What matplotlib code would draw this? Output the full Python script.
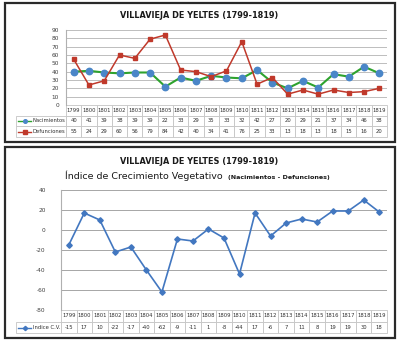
"""Villavieja de Yeltes: nacimientos, defunciones e índice de crecimiento vegetativo"""

import matplotlib
matplotlib.use('Agg')
import matplotlib.pyplot as plt
from matplotlib.lines import Line2D
from matplotlib.patches import Rectangle

plt.rcParams['axes.unicode_minus'] = False

# Datos
years = [str(y) for y in range(1799, 1820)]
nacimientos = [40, 41, 39, 38, 39, 39, 22, 33, 29, 35, 33, 32, 42, 27, 20, 29, 21, 37, 34, 46, 38]
defunciones = [55, 24, 29, 60, 56, 79, 84, 42, 40, 34, 41, 76, 25, 33, 13, 18, 13, 18, 15, 16, 20]
indice_cv = [-15, 17, 10, -22, -17, -40, -62, -9, -11, 1, -8, -44, 17, -6, 7, 11, 8, 19, 19, 30, 18]

W, H = 400, 345

def fx(px):
    return px / W

def fy(py):
    return 1 - py / H

def make_table(ax, rows, labels, left_px, ax_left, ax_right, ax_top, ax_bottom, tbl_bottom):
    """Tabla de datos estilo Excel bajo el gráfico"""
    ax_w = ax_right - ax_left
    ax_h = ax_bottom - ax_top
    n = len(years)
    label_w = ax_left - left_px
    total_w = ax_right - left_px
    cell_text = [[''] + years] + [[lab] + [str(v) for v in r] for lab, r in zip(labels, rows)]
    widths = [label_w / total_w] + [ax_w / n / total_w] * n
    tbl = ax.table(cellText=cell_text, colWidths=widths, cellLoc='center',
                   bbox=[(left_px - ax_left) / ax_w, -(tbl_bottom - ax_bottom) / ax_h,
                         total_w / ax_w, (tbl_bottom - ax_bottom) / ax_h])
    tbl.auto_set_font_size(False)
    for (r, c), cell in tbl.get_celld().items():
        cell.set_edgecolor('#c4c4c4')
        cell.set_linewidth(0.6)
        cell.get_text().set_fontsize(3.8)
        cell.get_text().set_color('#303030')
        cell.PAD = 0.02
        if r == 0 and c == 0:
            cell.visible_edges = ''
        if c == 0 and r > 0:
            cell.get_text().set_ha('right')
            cell._loc = 'right'
    return tbl

fig = plt.figure(figsize=(4, 3.45), dpi=100)
fig.patch.set_facecolor('white')

# Marcos de los dos paneles
for (x0, y0, x1, y1) in [(5, 3, 395, 142), (5, 147, 395, 338)]:
    fig.patches.append(Rectangle((fx(x0), fy(y1)), fx(x1) - fx(x0), fy(y0) - fy(y1),
                                 transform=fig.transFigure, fill=False,
                                 edgecolor='#2a2a2a', linewidth=1.6))

# ---- Gráfico superior ----
L1, R1, T1, B1 = 66, 387, 30, 105
ax1 = fig.add_axes([fx(L1), fy(B1), fx(R1) - fx(L1), fy(T1) - fy(B1)])
x = range(len(years))
ax1.plot(x, nacimientos, color='#2ea32e', linewidth=1.5, marker='o', markersize=4.6,
         markerfacecolor='#4a86c8', markeredgecolor='#4a86c8', zorder=3)
ax1.plot(x, defunciones, color='#c0392b', linewidth=1.1, marker='s', markersize=3.4,
         markerfacecolor='#c0392b', markeredgecolor='#c0392b', zorder=3)
ax1.set_xlim(-0.5, len(years) - 0.5)
ax1.set_ylim(0, 90)
ax1.set_yticks(range(0, 91, 10))
ax1.set_xticks([])
ax1.grid(axis='y', color='#bdbdbd', linewidth=0.7)
ax1.set_axisbelow(True)
for s in ['top', 'right', 'bottom']:
    ax1.spines[s].set_visible(False)
ax1.spines['left'].set_color('#b0b0b0')
ax1.tick_params(axis='y', length=0, labelsize=4.2, labelcolor='#404040', pad=5)
make_table(ax1, [nacimientos, defunciones], ['Nacimientos', 'Defunciones'],
           16, L1, R1, T1, B1, 137)
fig.text(fx(199), fy(16), 'VILLAVIEJA DE YELTES (1799-1819)', ha='center', va='center',
         fontsize=5.9, fontweight='bold', color='#1a1a1a')

# Claves de la leyenda en la tabla
for yk, col, lcol, mk in [(121, '#4a86c8', '#2ea32e', 'o'), (132, '#c0392b', '#c0392b', 's')]:
    fig.lines.append(Line2D([fx(18), fx(31)], [fy(yk), fy(yk)], transform=fig.transFigure,
                            color=lcol, linewidth=1.0))
    fig.lines.append(Line2D([fx(24.5)], [fy(yk)], transform=fig.transFigure, marker=mk,
                            markersize=2.6, color=col))

# ---- Gráfico inferior ----
L2, R2, T2, B2 = 61, 387, 190, 310
ax2 = fig.add_axes([fx(L2), fy(B2), fx(R2) - fx(L2), fy(T2) - fy(B2)])
ax2.plot(x, indice_cv, color='#4277c0', linewidth=1.2, marker='D', markersize=2.8,
         markerfacecolor='#4277c0', markeredgecolor='#4277c0', zorder=3)
ax2.set_xlim(-0.5, len(years) - 0.5)
ax2.set_ylim(-80, 40)
ax2.set_yticks(range(-80, 41, 20))
ax2.set_xticks([])
ax2.grid(axis='y', color='#a6a6a6', linewidth=0.7)
ax2.set_axisbelow(True)
for s in ['top', 'right', 'bottom']:
    ax2.spines[s].set_visible(False)
ax2.spines['left'].set_color('#b0b0b0')
ax2.tick_params(axis='y', length=0, labelsize=4.2, labelcolor='#404040', pad=11)
make_table(ax2, [indice_cv], ['Indice C.V.'], 16, L2, R2, T2, B2, 333)
fig.lines.append(Line2D([fx(18), fx(31)], [fy(327.5), fy(327.5)], transform=fig.transFigure,
                        color='#4277c0', linewidth=1.0))
fig.lines.append(Line2D([fx(24.5)], [fy(327.5)], transform=fig.transFigure, marker='D',
                        markersize=2.2, color='#4277c0'))

fig.text(fx(199), fy(162), 'VILLAVIEJA DE YELTES (1799-1819)', ha='center', va='center',
         fontsize=5.9, fontweight='bold', color='#1a1a1a')
fig.text(fx(65), fy(176), 'Índice de Crecimiento Vegetativo', ha='left', va='center',
         fontsize=6.8, color='#1a1a1a')
fig.text(fx(228), fy(177), '(Nacimientos - Defunciones)', ha='left', va='center',
         fontsize=4.6, fontweight='bold', color='#1a1a1a')

plt.savefig('out.png', dpi=100)
